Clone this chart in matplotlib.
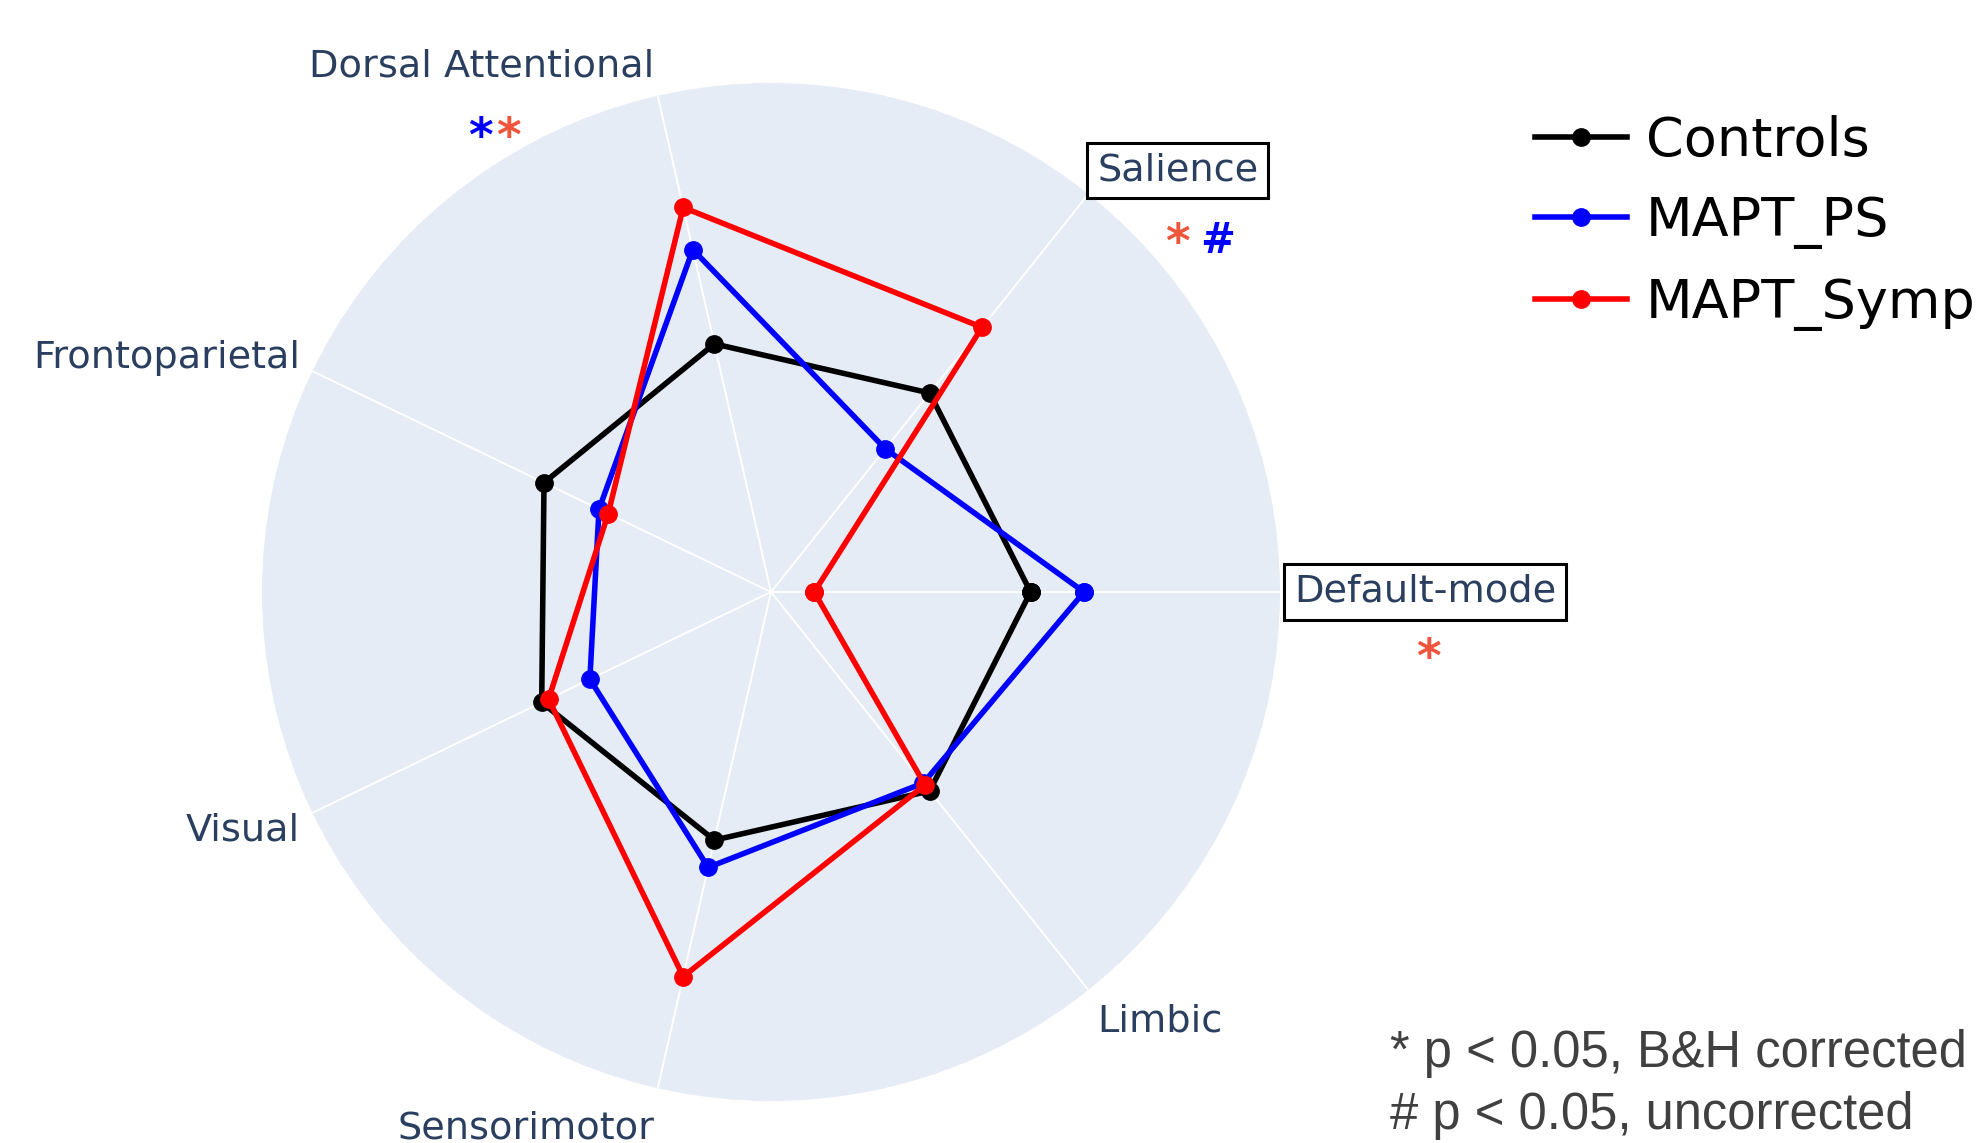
import numpy as np
import matplotlib.pyplot as plt

# network order runs counter-clockwise from the east
networks = ["Default-mode", "Salience", "Dorsal Attentional", "Frontoparietal",
            "Visual", "Sensorimotor", "Limbic"]
controls = [1.02, 1.00, 1.00, 0.99, 1.00, 1.00, 1.00]
mapt_ps = [1.23, 0.72, 1.38, 0.75, 0.79, 1.11, 0.96]
mapt_symp = [0.17, 1.33, 1.55, 0.71, 0.97, 1.55, 0.97]

groups = ["Controls", "MAPT_PS", "MAPT_Symp"]
group_values = [controls, mapt_ps, mapt_symp]
group_colors = ["black", "blue", "red"]

# significance symbols shown next to a network label
sig_red = "#EF553B"
sig_marks = {
    "Default-mode": [("*", sig_red, (106.6, -38.9))],
    "Salience": [("*", sig_red, (64.1, -26.6)), ("#", "blue", (92.9, -31.7))],
    "Dorsal Attentional": [("*", "blue", (-127.4, -21.0)), ("*", sig_red, (-107.3, -21.0))],
}
boxed = ["Salience", "Default-mode"]
footnotes = ["* p < 0.05, B&H corrected", "# p < 0.05, uncorrected"]

r_max = 2.0
label_color = "#2a3f5f"
label_size = 27.5
mark_size = {"*": 34, "#": 30}
# height of the glyph centre above the baseline, in em
glyph_mid = {"*": 0.56, "#": 0.36}

W, H = 1978, 1143
fig = plt.figure(figsize=(W / 100, H / 100), dpi=100)

cx, cy, R = 771, 592, 509
ax = fig.add_axes([(cx - R) / W, (H - cy - R) / H, 2 * R / W, 2 * R / H],
                  projection="polar")
ax.set_facecolor("#E5ECF6")
ax.spines["polar"].set_visible(False)

theta = np.arange(len(networks)) * 2 * np.pi / len(networks)
theta_closed = np.append(theta, theta[0])

handles = []
for name, vals, col in zip(groups, group_values, group_colors):
    r = np.append(vals, vals[0])
    ln, = ax.plot(theta_closed, r, color=col, lw=4.0, marker="o", ms=12.5,
                  label=name, clip_on=False)
    handles.append(ln)

ax.set_ylim(0, r_max)
ax.set_yticks([])
ax.set_xticks(theta)
ax.set_xticklabels([])
ax.tick_params(axis="x", length=0)
ax.xaxis.grid(True, color="white", lw=1.4)
ax.yaxis.grid(False)

# category labels sit just outside the circle
for t, name in zip(theta, networks):
    c, s = np.cos(t), np.sin(t)
    ha = "left" if c > 0.01 else "right"
    dx = 10 * c
    dy = 25.4 * s - 4.0 * abs(s)
    kw = {}
    if name in boxed:
        kw["bbox"] = dict(boxstyle="square,pad=0.25", fc="white", ec="black", lw=2.2)
    ax.annotate(name, xy=(t, r_max), xytext=(dx, dy),
                textcoords="offset points", ha=ha, va="center",
                fontsize=label_size, color=label_color, **kw)
    for sym, col, (mx, my) in sig_marks.get(name, []):
        size = mark_size[sym]
        ax.annotate(sym, xy=(t, r_max), xytext=(mx, my - glyph_mid[sym] * size),
                    textcoords="offset points", ha="center", va="baseline",
                    fontsize=size, fontweight="bold", color=col)

fig.legend(handles, groups, loc="upper left",
           bbox_to_anchor=(1535 / W, 1 - 115 / H), frameon=False,
           fontsize=39, handlelength=1.7, handletextpad=0.35,
           labelspacing=0.52, borderpad=0, borderaxespad=0)

for i, txt in enumerate(footnotes):
    fig.text(1390 / W, 1 - (1053 + 62 * i) / H, txt, ha="left", va="center",
             fontsize=36.5, color="#404040", family=["Liberation Sans", "DejaVu Sans"])

fig.savefig("out.png", dpi=100)
